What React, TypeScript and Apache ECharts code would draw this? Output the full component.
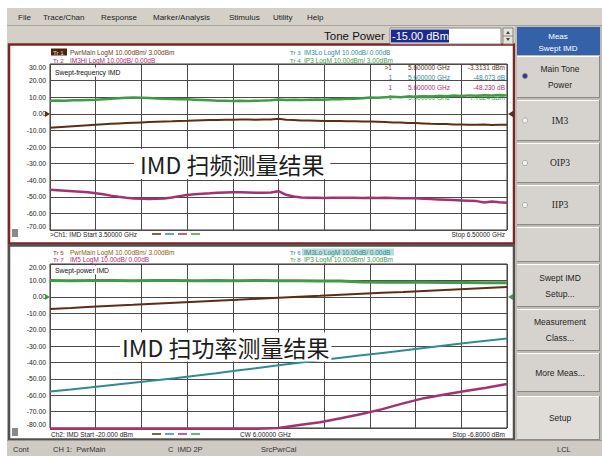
import React, { useEffect, useRef } from "react";
import * as echarts from "echarts";

// ---------------- data ----------------
// Swept-frequency IMD (Ch1): 3.5 GHz .. 6.5 GHz
const sweepFreqGHz: number[] = Array.from({ length: 61 }, (_, i) => Math.round((3.5 + i * 0.05) * 100) / 100);
const freqPwrMain = [
  -8.4, -8.1, -7.8, -7.5, -7.2, -6.9, -6.6, -6.3, -6.0, -5.8,
  -5.6, -5.4, -5.2, -5.0, -4.8, -4.6, -4.5, -4.3, -4.2, -4.0,
  -3.9, -3.8, -3.7, -3.6, -3.6, -3.5, -3.5, -3.6, -3.5, -3.4,
  -3.0, -3.6, -3.8, -4.0, -4.1, -4.2, -4.3, -4.4, -4.4, -4.5,
  -4.5, -4.6, -4.6, -4.8, -5.0, -5.2, -5.3, -5.5, -5.6, -5.8,
  -6.0, -6.1, -6.2, -6.4, -6.5, -6.6, -6.6, -6.5, -6.7, -6.6, -6.6,
];
const freqIP3 = [
  7.8, 8.0, 7.9, 8.2, 8.1, 8.3, 8.4, 8.7, 9.0, 9.3,
  9.6, 9.8, 9.7, 9.5, 9.2, 9.0, 8.9, 8.8, 8.7, 8.5,
  8.3, 8.1, 7.9, 7.8, 7.7, 7.8, 7.7, 7.9, 8.0, 8.2,
  8.6, 8.3, 8.4, 8.3, 8.5, 8.6, 8.5, 8.7, 8.8, 9.0,
  9.1, 9.3, 9.8, 9.6, 9.9, 10.2, 10.0, 10.4, 10.3, 10.6,
  10.4, 10.8, 10.6, 11.0, 10.7, 11.1, 10.9, 11.2, 11.0, 11.3, 11.1,
];
const freqIM3Hi = [
  -45.8, -46.1, -46.4, -46.7, -47.0, -47.3, -47.8, -48.5, -49.3, -50.0,
  -50.6, -51.0, -51.2, -51.3, -51.2, -51.0, -50.4, -49.6, -48.9, -48.5,
  -48.1, -47.9, -47.6, -47.4, -47.2, -47.3, -47.4, -47.6, -47.5, -47.4,
  -46.6, -48.8, -49.8, -50.4, -50.6, -50.6, -50.7, -50.6, -50.6, -50.5,
  -50.6, -50.7, -50.6, -50.7, -50.6, -50.7, -50.8, -50.8, -50.9, -51.2,
  -51.4, -51.6, -51.8, -52.0, -52.2, -52.4, -52.6, -53.4, -52.9, -53.3, -53.6,
];

// Swept-power IMD (Ch2): -20 dBm .. -6.8 dBm, CW 6 GHz
const sweepPowerDbm: number[] = Array.from({ length: 23 }, (_, i) => Math.round((-20 + i * 0.6) * 10) / 10);
const powPwrMain = [-7.4, -6.8, -6.1, -5.5, -4.9, -4.2, -3.6, -3.0, -2.4, -1.8, -1.2, -0.6, 0.0, 0.6, 1.3, 1.9, 2.5, 3.0, 3.6, 4.2, 4.8, 5.4, 6.0];
const powIP3 = [9.9, 9.8, 9.9, 9.9, 9.8, 9.9, 9.9, 9.8, 9.9, 9.8, 9.9, 9.8, 9.8, 9.7, 9.6, 9.0, 8.9, 8.8, 8.8, 8.7, 8.7, 8.6, 8.6];
const powIM3Lo = [-57.7, -56.5, -55.2, -53.8, -52.4, -51.0, -49.6, -48.1, -46.6, -45.0, -43.4, -41.8, -40.2, -38.7, -37.2, -35.7, -34.2, -32.7, -31.2, -29.7, -28.2, -26.8, -25.4];
const powIM5 = [-80.4, -80.4, -80.4, -80.4, -80.4, -80.4, -80.4, -80.4, -80.4, -80.4, -80.4, -80.0, -78.2, -76.5, -74.0, -71.5, -68.5, -65.0, -61.8, -59.6, -57.5, -55.4, -53.2];

const menuItems = ["File", "Trace/Chan", "Response", "Marker/Analysis", "Stimulus", "Utility", "Help"];

// ---------------- styles ----------------
const SANS = "'Liberation Sans', 'DejaVu Sans', sans-serif";
const SERIF = "'Liberation Serif', 'DejaVu Serif', serif";
const CJK = "'Noto Sans CJK SC', sans-serif";
const BROWN = "#5c2e16";
const GREEN = "#3f9b47";
const MAGENTA = "#a53171";
const TEAL = "#2f8c91";
const GRID = "#4e4848";
const FACE = "#d6d3ce";

const zip = (xs: number[], ys: number[]) => xs.map((x, i) => [x, ys[i]]);

const T = (x: number, y: number, text: string, fill = "#1a1a1a", fontSize = 8, st: any = {}, z = 20) => ({
  type: "text", x, y, z, silent: true,
  style: { text, fill, fontSize, fontFamily: SANS, verticalAlign: "middle", align: "left", ...st },
});
const R = (x: number, y: number, w: number, h: number, fill: string, z = -10, stroke?: string, lw = 1) => ({
  type: "rect", z, silent: true, shape: { x, y, width: w, height: h },
  style: stroke ? { fill, stroke, lineWidth: lw } : { fill },
});
const L = (x1: number, y1: number, x2: number, y2: number, stroke: string, lw = 1, z = 5) => ({
  type: "line", z, silent: true, shape: { x1, y1, x2, y2 }, style: { stroke, lineWidth: lw },
});

function buildGraphics() {
  const g: any[] = [];
  // page background
  g.push(R(0, 0, 602, 456, "#d4d0c8", -30));
  g.push(R(0, 0, 602, 8, "#ffffff", -29));
  g.push(R(0, 0, 7, 456, "#ffffff", -29));
  // menu bar
  const menuX = [18, 43, 101, 153, 229, 273, 307];
  menuItems.forEach((m, i) => g.push(T(menuX[i], 17, m, "#222", 8)));
  g.push(L(7, 25.5, 602, 25.5, "#a9a59d", 1, -5));
  // Tone power row
  g.push(T(324, 36, "Tone Power", "#111", 11.5));
  g.push(R(390, 28, 111, 16, "#ffffff", -5, "#8a8780", 1));
  g.push(R(391, 29.5, 58, 13, "#1f2b8c", -4));
  g.push(T(392, 36, "-15.00 dBm", "#ffffff", 11));
  g.push(R(503, 28, 10, 16, "#e6e3de", -5, "#8a8780", 1));
  g.push(L(503, 36, 513, 36, "#8a8780", 1, -3));
  g.push({ type: "polygon", z: 2, silent: true, shape: { points: [[506, 34], [510, 34], [508, 31]] }, style: { fill: "#444" } });
  g.push({ type: "polygon", z: 2, silent: true, shape: { points: [[506, 38], [510, 38], [508, 41]] }, style: { fill: "#444" } });

  // ---- chart windows ----
  g.push(R(9, 44.5, 505, 199, "#ffffff", -20, "#7b2626", 2.5));
  g.push(R(9, 245.5, 505, 194, "#ffffff", -20, "#555050", 2.5));

  // upper legends
  g.push(R(51, 48.5, 16, 7, "#4a2410", -4));
  g.push(T(53, 52, "Tr 1", "#f0e0c8", 6.2));
  g.push(T(70, 52, "PwrMain LogM 10.00dBm/ 3.00dBm", "#6b3a1a", 6.5));
  g.push(T(53, 60, "Tr 2", MAGENTA, 6.2));
  g.push(T(70, 60, "IM3Hi LogM 10.00dB/ 0.00dB", MAGENTA, 6.5));
  g.push(T(290, 52, "Tr 3", TEAL, 6.2));
  g.push(T(304, 52, "IM3Lo LogM 10.00dB/ 0.00dB", TEAL, 6.5));
  g.push(T(290, 60, "Tr 4", GREEN, 6.2));
  g.push(T(304, 60, "IP3 LogM 10.00dBm/ 3.00dBm", GREEN, 6.5));
  // upper title box
  g.push(T(54, 72, "Swept-frequency IMD", "#111", 6.8, { backgroundColor: "#ffffff", padding: [1, 2, 1, 1] }));
  // marker readout
  const rows = [
    { m: ">1", v: "-3.3131 dBm", c: BROWN, y: 67 },
    { m: "1", v: "-48.073 dB", c: TEAL, y: 77 },
    { m: "1", v: "-48.230 dB", c: MAGENTA, y: 87 },
    { m: "1", v: "7.7624 dBm", c: GREEN, y: 97 },
  ];
  rows.forEach((r) => {
    g.push(T(392, r.y, r.m, r.c, 6.5, { align: "right" }));
    g.push(T(408, r.y, "5.600000 GHz", r.c, 6.5));
    g.push(T(505, r.y, r.v, r.c, 6.5, { align: "right" }));
  });
  // upper bottom line
  g.push(R(12, 229, 6, 8, "#8a8a8a", 2));
  g.push(T(50, 234, ">Ch1: IMD Start 3.50000 GHz", "#222", 6.5));
  g.push(T(505, 234, "Stop 6.50000 GHz", "#222", 6.5, { align: "right" }));
  [BROWN, TEAL, MAGENTA, GREEN].forEach((c, i) => g.push(L(152 + i * 13, 234, 161 + i * 13, 234, c, 1.5, 6)));
  // reference markers
  g.push({ type: "polygon", z: 6, silent: true, shape: { points: [[45, 111], [50, 114], [45, 117]] }, style: { fill: BROWN } });
  g.push({ type: "polygon", z: 6, silent: true, shape: { points: [[513, 111], [508, 114], [513, 117]] }, style: { fill: BROWN } });

  // lower legends
  g.push(T(53, 252, "Tr 5", "#7a4a1a", 6.2));
  g.push(T(70, 252, "PwrMain LogM 10.00dBm/ 3.00dBm", "#8a5a22", 6.5));
  g.push(T(53, 259, "Tr 7", MAGENTA, 6.2));
  g.push(T(70, 259, "IM5 LogM 10.00dB/ 0.00dB", MAGENTA, 6.5));
  g.push(T(290, 252, "Tr 6", TEAL, 6.2));
  g.push(R(302, 248.5, 92, 7, "#b9ddd8", -4));
  g.push(T(304, 252, "IM3Lo LogM 10.00dB/ 0.00dB", TEAL, 6.5));
  g.push(T(290, 259, "Tr 8", GREEN, 6.2));
  g.push(T(304, 259, "IP3 LogM 10.00dBm/ 3.00dBm", GREEN, 6.5));
  g.push(T(54, 270, "Swept-power IMD", "#111", 6.8, { backgroundColor: "#ffffff", padding: [1, 2, 1, 1] }));
  g.push(R(12, 428, 6, 8, "#8a8a8a", 2));
  g.push(T(51, 434, "Ch2: IMD Start -20.000 dBm", "#222", 6.5));
  g.push(T(240, 434, "CW 6.00000 GHz", "#222", 6.5));
  g.push(T(505, 434, "Stop -6.8000 dBm", "#222", 6.5, { align: "right" }));
  [BROWN, TEAL, MAGENTA, GREEN].forEach((c, i) => g.push(L(152 + i * 13, 434, 161 + i * 13, 434, c, 1.5, 6)));
  g.push({ type: "polygon", z: 6, silent: true, shape: { points: [[45, 294], [50, 297], [45, 300]] }, style: { fill: GREEN } });
  g.push({ type: "polygon", z: 6, silent: true, shape: { points: [[513, 294], [508, 297], [513, 300]] }, style: { fill: GREEN } });

  // overlay captions
  g.push(T(134, 164, "IMD 扫频测量结果", "#1c1c1c", 23, { fontFamily: CJK, backgroundColor: "#ffffff", padding: [4, 6, 3, 6] }, 100));
  g.push(T(120, 347, "IMD 扫功率测量结果", "#1c1c1c", 23, { fontFamily: CJK, backgroundColor: "#ffffff", padding: [3, 2, 3, 2] }, 100));

  // ---- right soft-key panel ----
  g.push(R(515, 26, 87, 414, "#bfbcb6", -15));
  g.push(R(517, 27, 83, 28, "#3561a8", -5));
  g.push(T(558, 36, "Meas", "#ffffff", 8, { align: "center" }));
  g.push(T(558, 48, "Swept IMD", "#ffffff", 8, { align: "center" }));
  const buttons: { y0: number; y1: number; lines: string[]; serif?: boolean; face?: string; radio?: string }[] = [
    { y0: 56, y1: 98, lines: ["Main Tone", "Power"], radio: "#2b3f9a" },
    { y0: 100, y1: 141, lines: ["IM3"], serif: true, radio: "#f2f2f2" },
    { y0: 143, y1: 183, lines: ["OIP3"], serif: true, radio: "#f2f2f2" },
    { y0: 185, y1: 225, lines: ["IIP3"], serif: true, radio: "#f2f2f2" },
    { y0: 227, y1: 262, lines: [] },
    { y0: 264, y1: 307, lines: ["Swept IMD", "Setup..."] },
    { y0: 309, y1: 351, lines: ["Measurement", "Class..."] },
    { y0: 353, y1: 392, lines: ["More Meas..."] },
    { y0: 396, y1: 440, lines: ["Setup"], face: "#e0ddd8" },
  ];
  buttons.forEach((b) => {
    g.push(R(517, b.y0, 83, b.y1 - b.y0, b.face || FACE, -5));
    g.push(L(517, b.y0 + 0.5, 600, b.y0 + 0.5, "#ffffff", 1, -3));
    g.push(L(517, b.y1 - 0.5, 600, b.y1 - 0.5, "#8c8984", 1, -3));
    g.push(L(599.5, b.y0, 599.5, b.y1, "#8c8984", 1, -3));
    const cy = (b.y0 + b.y1) / 2;
    const n = b.lines.length;
    b.lines.forEach((t, i) => {
      const y = cy + (i - (n - 1) / 2) * 16;
      g.push(T(560, y, t, "#1e1e1e", b.serif ? 9.5 : 8.5, { align: "center", fontFamily: b.serif ? SERIF : SANS }));
    });
    if (b.radio) {
      g.push({ type: "circle", z: 4, silent: true, shape: { cx: 525, cy: b.lines.length > 1 ? cy - 1 : cy, r: 2.6 }, style: { fill: b.radio, stroke: "#888", lineWidth: 0.6 } });
    }
  });

  // status bar
  g.push(R(7, 441, 595, 15, "#cfcbc4", -12));
  g.push(L(7, 440.5, 602, 440.5, "#9c9890", 1, -3));
  g.push(T(13, 449, "Cont", "#333", 7.5));
  g.push(T(53, 449, "CH 1:  PwrMain", "#333", 7.5));
  g.push(T(168, 449, "C  IMD 2P", "#333", 7.5));
  g.push(T(261, 449, "SrcPwrCal", "#333", 7.5));
  g.push(T(557, 449, "LCL", "#333", 7.5));
  return g;
}

const yLabel = (fontSize: number) => ({
  formatter: (v: number) => v.toFixed(2),
  fontSize,
  color: "#222",
  fontFamily: SANS,
  margin: 4,
  verticalAlignMaxLabel: "top",
  verticalAlignMinLabel: "bottom",
});

const divAxis = (gridIndex: number) => ({
  gridIndex,
  type: "value",
  min: 0,
  max: 10,
  interval: 1,
  axisLine: { show: false },
  axisTick: { show: false },
  axisLabel: { show: false },
  splitLine: { show: true, lineStyle: { color: GRID, width: 1 } },
});

const lineSeries = (name: string, xi: number, yi: number, data: number[][], color: string, width: number, z = 3, clip = true) => ({
  name,
  type: "line",
  xAxisIndex: xi,
  yAxisIndex: yi,
  data,
  showSymbol: false,
  symbol: "none",
  clip,
  z,
  lineStyle: { color, width },
  itemStyle: { color },
});

export default function App() {
  const ref = useRef<HTMLDivElement>(null);
  useEffect(() => {
    if (!ref.current) return;
    const chart = echarts.init(ref.current, null, { renderer: "svg" });
    chart.setOption({
      animation: false,
      backgroundColor: "#d4d0c8",
      grid: [
        { left: 50, top: 64, width: 457, height: 166, show: true, borderColor: "#3a3434", borderWidth: 1, backgroundColor: "transparent" },
        { left: 50, top: 264, width: 457, height: 164, show: true, borderColor: "#3a3434", borderWidth: 1, backgroundColor: "transparent" },
      ],
      xAxis: [
        { gridIndex: 0, type: "value", min: 3.5, max: 6.5, show: false },
        divAxis(0),
        { gridIndex: 1, type: "value", min: -20, max: -6.8, show: false },
        divAxis(1),
      ],
      yAxis: [
        {
          gridIndex: 0, type: "value", min: -70, max: 30, interval: 10,
          axisLine: { show: false }, axisTick: { show: false },
          axisLabel: yLabel(6.8),
          splitLine: { show: true, lineStyle: { color: GRID, width: 1 } },
        },
        {
          gridIndex: 1, type: "value", min: -80, max: 20, interval: 10,
          axisLine: { show: false }, axisTick: { show: false },
          axisLabel: yLabel(6.8),
          splitLine: { show: true, lineStyle: { color: GRID, width: 1 } },
        },
      ],
      graphic: { elements: buildGraphics() },
      series: [
        lineSeries("PwrMain", 0, 0, zip(sweepFreqGHz, freqPwrMain), BROWN, 2),
        lineSeries("IM3Hi", 0, 0, zip(sweepFreqGHz, freqIM3Hi), MAGENTA, 2.5),
        lineSeries("IP3", 0, 0, zip(sweepFreqGHz, freqIP3), GREEN, 2.5),
        lineSeries("PwrMain (power)", 2, 1, zip(sweepPowerDbm, powPwrMain), BROWN, 2),
        lineSeries("IM3Lo", 2, 1, zip(sweepPowerDbm, powIM3Lo), TEAL, 2),
        lineSeries("IM5", 2, 1, zip(sweepPowerDbm, powIM5), MAGENTA, 2.5, 3, false),
        lineSeries("IP3 (power)", 2, 1, zip(sweepPowerDbm, powIP3), GREEN, 3),
      ],
    });
    return () => chart.dispose();
  }, []);
  return <div ref={ref} style={{ position: "absolute", left: 0, top: 0, width: 602, height: 456 }} />;
}
